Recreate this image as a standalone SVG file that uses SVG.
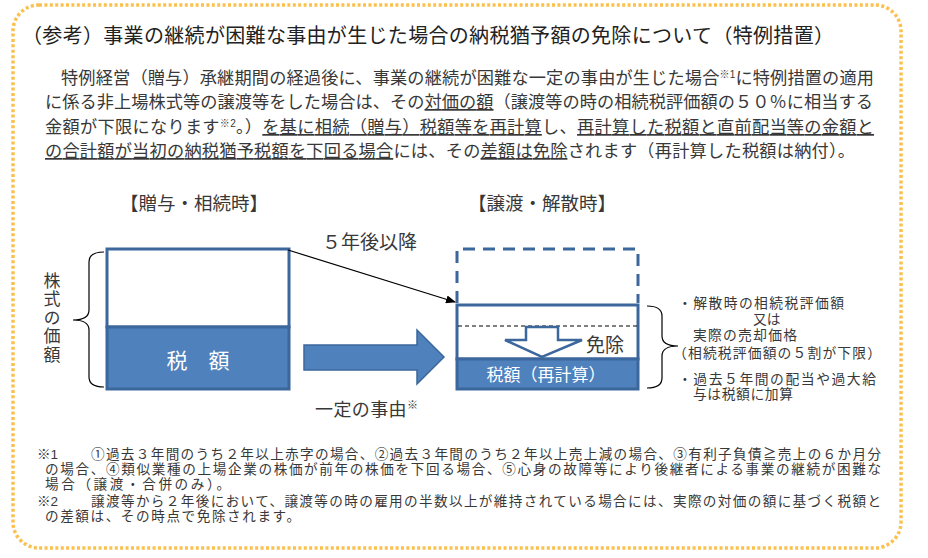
<svg xmlns="http://www.w3.org/2000/svg" width="928" height="558" viewBox="0 0 928 558">
<style>
text{font-family:"Liberation Sans","Noto Sans CJK JP",sans-serif;fill:#383838}
.title{font-size:20px;fill:#222}
.para{font-size:17.2px}
.u{text-decoration:underline}
.sup{font-size:10px}
.hdr{font-size:18.5px}
.side{font-size:13.8px}
.foot{font-size:13.6px}
.wt{fill:#fff}
.box{stroke:#3C679C;stroke-width:3}
.blue{fill:#4F81BD}
.brace{fill:none;stroke:#000;stroke-width:1.2}
</style>
<defs>
<marker id="ah" markerWidth="10" markerHeight="8" refX="9" refY="4" orient="auto" markerUnits="userSpaceOnUse">
<path d="M0,0 L10,4 L0,8 z" fill="#000"/>
</marker>
</defs>

<rect x="13" y="5" width="888" height="543" rx="26" ry="26" fill="none" stroke="#FBC04E" stroke-width="3.5" stroke-dasharray="3 2.4"/>

<text class="title" x="22" y="43" textLength="812">（参考）事業の継続が困難な事由が生じた場合の納税猶予額の免除について（特例措置）</text>

<text class="para"><tspan x="61" y="84" textLength="813">特例経営（贈与）承継期間の経過後に、事業の継続が困難な一定の事由が生じた場合<tspan class="sup" dy="-6">※1</tspan><tspan dy="6">に特例措置の適用</tspan></tspan><tspan x="45" y="108" textLength="828">に係る非上場株式等の譲渡等をした場合は、その<tspan class="u">対価の額</tspan>（譲渡等の時の相続税評価額の５０％に相当する</tspan><tspan x="45" y="133" textLength="829">金額が下限になります<tspan class="sup" dy="-6">※2</tspan><tspan dy="6">。）</tspan><tspan class="u">を基に相続（贈与）税額等を再計算</tspan>し、<tspan class="u">再計算した税額と直前配当等の金額と</tspan></tspan><tspan x="45" y="157" textLength="810"><tspan class="u">の合計額が当初の納税猶予税額を下回る場合</tspan>には、その<tspan class="u">差額は免除</tspan>されます（再計算した税額は納付）。</tspan></text>

<g id="hdr-left"><text class="hdr" x="120" y="210" textLength="148">【贈与・相続時】</text></g>
<g id="hdr-right"><text class="hdr" x="468" y="210" textLength="148">【譲渡・解散時】</text></g>

<g id="label-kabushiki">
<text x="50" y="272" writing-mode="tb" font-size="17px" letter-spacing="1.5">株式の価額</text>
<path class="brace" d="M104,252 Q89,252 89,262 L89,310 Q89,320 73,320 Q89,320 89,330 L89,377 Q89,387 104,387"/>
</g>

<g id="box-left">
<rect x="107" y="249" width="182" height="78" fill="#fff" class="box"/>
<rect x="107" y="327" width="182" height="62" class="box blue"/>
<text class="wt" x="198" y="368" text-anchor="middle" font-size="21px">税　額</text>
</g>

<g id="box-right">
<path d="M457,303 L457,249 L638,249 L638,303" fill="none" stroke="#3C679C" stroke-width="3" stroke-dasharray="12 8"/>
<rect x="457" y="305" width="181" height="54" fill="#fff" class="box"/>
<rect x="457" y="359" width="181" height="30" class="box blue"/>
<line x1="458" y1="326" x2="637" y2="326" stroke="#000" stroke-width="1" stroke-dasharray="4 3"/>
<polygon points="526,327 558,327 558,340 582,340 542,357 505,340 526,340" fill="#fff" stroke="#3C679C" stroke-width="2.5" stroke-linejoin="miter"/>
<text x="586" y="352" font-size="19px" fill="#222">免除</text>
<text class="wt" x="546" y="381" text-anchor="middle" font-size="17px">税額（再計算）</text>
</g>

<g id="connectors">
<line x1="288" y1="250" x2="455" y2="302" stroke="#000" stroke-width="1.2" marker-end="url(#ah)"/>
<polygon points="304,345 417,345 417,330 444,357 417,384 417,370 304,370" fill="#4F81BD" stroke="#3C679C" stroke-width="1.5"/>
</g>

<g id="label-5years"><text x="322" y="249" font-size="19px" textLength="95">５年後以降</text></g>
<g id="label-jiyu"><text x="315" y="416" font-size="18px" textLength="103">一定の事由<tspan font-size="11px" dy="-7">※</tspan></text></g>

<g id="side-note">
<path class="brace" d="M647,306 Q662,306 662,316 L662,336 Q662,346 678,346 Q662,346 662,356 L662,378 Q662,388 647,388"/>
<text class="side"><tspan x="678" y="308" textLength="166">・解散時の相続税評価額</tspan><tspan x="753" y="324">又は</tspan><tspan x="693" y="340" textLength="104">実際の売却価格</tspan><tspan x="673" y="358" textLength="208">（相続税評価額の５割が下限）</tspan></text>
<text class="side"><tspan x="678" y="384" textLength="198">・過去５年間の配当や過大給</tspan><tspan x="693" y="399" textLength="100">与は税額に加算</tspan></text>
</g>

<g id="footnotes">
<text class="foot"><tspan x="37" y="459">※1</tspan><tspan x="91" y="459" textLength="790">①過去３年間のうち２年以上赤字の場合、②過去３年間のうち２年以上売上減の場合、③有利子負債≧売上の６か月分</tspan><tspan x="45" y="474" textLength="836">の場合、④類似業種の上場企業の株価が前年の株価を下回る場合、⑤心身の故障等により後継者による事業の継続が困難な</tspan><tspan x="45" y="489" textLength="185">場合（譲渡・合併のみ）。</tspan></text>
<text class="foot"><tspan x="37" y="506">※2</tspan><tspan x="91" y="506" textLength="790">譲渡等から２年後において、譲渡等の時の雇用の半数以上が維持されている場合には、実際の対価の額に基づく税額と</tspan><tspan x="45" y="521" textLength="255">の差額は、その時点で免除されます。</tspan></text>
</g>
</svg>
